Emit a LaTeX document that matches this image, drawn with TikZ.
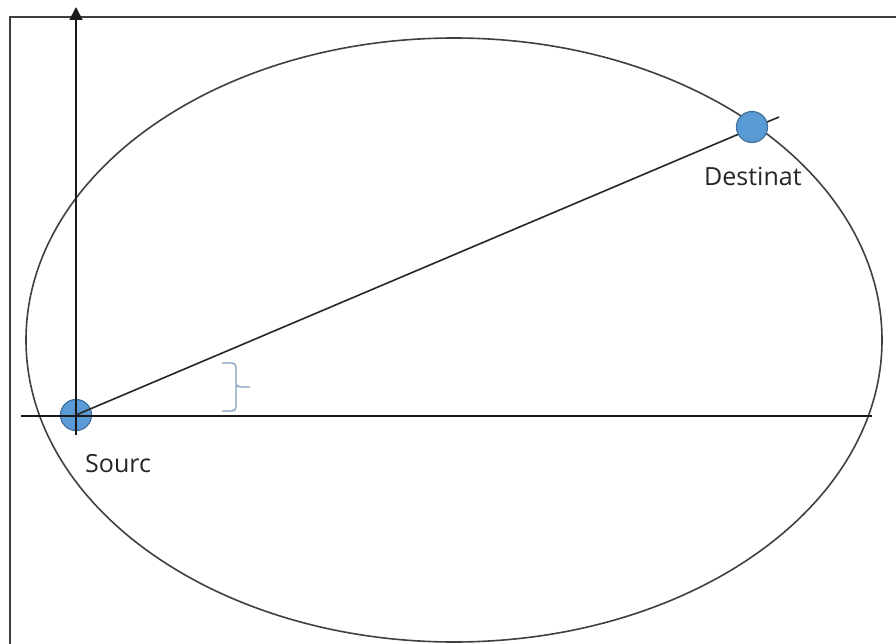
\documentclass[tikz,border=0pt]{standalone}
\usepackage{fontspec}
\setmainfont{Open Sans}
\usetikzlibrary{arrows.meta}
\definecolor{dotblue}{HTML}{5B9BD5}
\definecolor{dotedge}{HTML}{41719C}
\definecolor{bracecol}{HTML}{7F9CBA}
\definecolor{linegray}{HTML}{404040}
\begin{document}
\begin{tikzpicture}[x=1pt, y=-1pt,
    dot/.style={circle, draw=dotedge, fill=dotblue, line width=1.2pt, minimum size=31pt, inner sep=0pt},
    lbl/.style={font=\fontsize{25}{30}\selectfont, anchor=base west, inner sep=0pt, text=black!85},
    axis/.style={line width=1.8pt, black!90}]
        \useasboundingbox (0,0) rectangle (896,644);
        \fill[white] (0,0) rectangle (896,644);
        \draw[linegray, line width=2pt] (10,644) -- (10,17) -- (896,17);
        \draw[linegray, line width=1.6pt] (454,340) ellipse [x radius=428pt, y radius=302pt];
        \node[dot] (src) at (76,415) {};
        \coordinate (xl) at (21,416);
        \coordinate (xr) at (872,416);
        \coordinate (yb) at (76,435);
        \coordinate (yt) at (76,7);
        \draw[axis] (xl) -- (xr);
        \draw[axis, -{Triangle[length=13pt,width=13pt]}] (yb) -- (yt);
        \coordinate (tip) at (779,117);
        \draw[line width=1.6pt, black!85] (src.center) -- (tip);
        \node[dot] (dst) at (752,127) {};
        \node[lbl] (srclbl) at (85,472) {Sourc};
        \node[lbl] (dstlbl) at (704,186) {Destinat};
        \draw[bracecol, line width=1.3pt, rounded corners=4pt] (222,363) -- (236,363) -- (236,387) -- (250,387);
        \draw[bracecol, line width=1.3pt, rounded corners=4pt] (236,385) -- (236,411) -- (222,411);
    \end{tikzpicture}
\end{document}
